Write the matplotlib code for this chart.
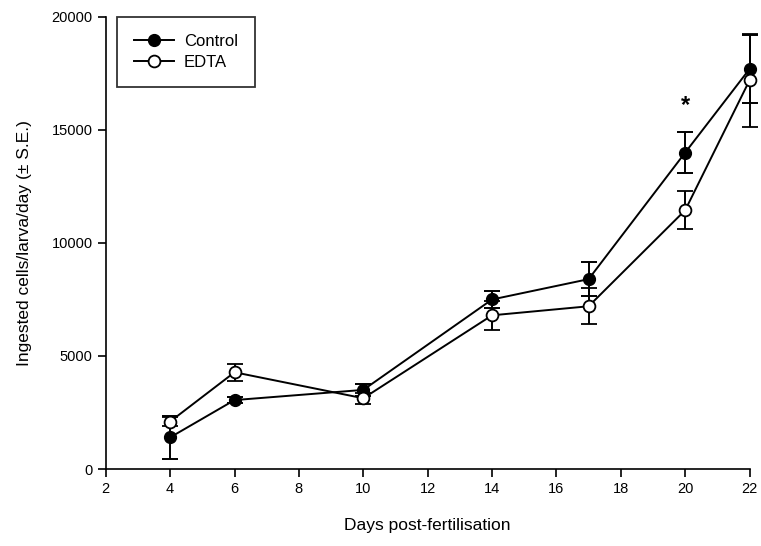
import numpy as np
import matplotlib
matplotlib.use("Agg")
import matplotlib.pyplot as plt
from matplotlib.lines import Line2D

plt.rcParams['font.family'] = ['Liberation Sans', 'DejaVu Sans']

# dữ liệu
days = [4, 6, 10, 14, 17, 20, 22]
control = [1400, 3050, 3500, 7500, 8400, 14000, 17700]
control_se = [950, 120, 250, 370, 740, 900, 1500]
edta = [2100, 4280, 3130, 6800, 7200, 11450, 17200]
edta_se = [200, 380, 250, 650, 800, 850, 2050]

fig = plt.figure(figsize=(7.61, 5.46), dpi=100)
ax = fig.add_axes([0.139, 0.141, 0.846, 0.828])

ax.errorbar(days, control, yerr=control_se, color='black', lw=1.4,
            marker='o', ms=8.5, mfc='black', mec='black', capsize=6,
            elinewidth=1.4, capthick=1.4, zorder=3, clip_on=False)
ax.errorbar(days, edta, yerr=edta_se, color='black', lw=1.4,
            marker='o', ms=8.5, mfc='white', mec='black', mew=1.3, capsize=6,
            elinewidth=1.4, capthick=1.4, zorder=4, clip_on=False)

ax.text(20, 16100, '*', ha='center', va='center', fontsize=17, fontweight='bold')

ax.set_xlim(2, 22)
ax.set_ylim(0, 20000)
ax.set_xticks(range(2, 23, 2))
ax.set_yticks(range(0, 20001, 5000))
ax.spines['top'].set_visible(False)
ax.spines['right'].set_visible(False)
ax.spines['left'].set_linewidth(1.2)
ax.spines['bottom'].set_linewidth(1.2)
ax.tick_params(direction='out', length=6, width=1.2, labelsize=10.5)
ax.set_xlabel('Days post-fertilisation', fontsize=12.5, labelpad=16)
ax.set_ylabel('Ingested cells/larva/day (± S.E.)', fontsize=12.5, labelpad=14)

handles = [Line2D([], [], color='black', lw=1.4, marker='o', ms=8.5, mfc='black', mec='black'),
           Line2D([], [], color='black', lw=1.4, marker='o', ms=8.5, mfc='white', mec='black', mew=1.3)]
leg = ax.legend(handles, ['Control', 'EDTA'], loc='upper left',
                bbox_to_anchor=(0.018, 1.0), borderaxespad=0, fontsize=12,
                frameon=True, fancybox=False, edgecolor='black',
                handlelength=2.4, borderpad=1.0, labelspacing=0.4, handletextpad=0.6)
leg.get_frame().set_linewidth(1.3)

fig.savefig('out.png', dpi=100)
